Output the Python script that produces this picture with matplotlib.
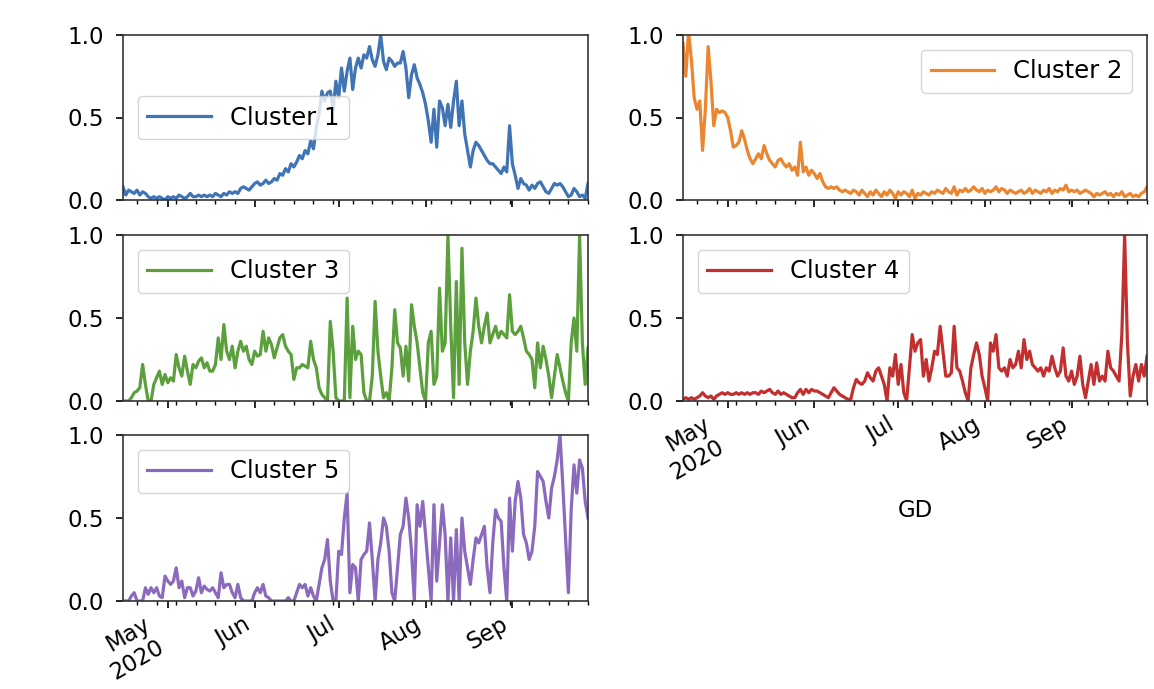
import numpy as np
import pandas as pd
import matplotlib
matplotlib.use("Agg")
import matplotlib.pyplot as plt
import matplotlib.dates as mdates
from matplotlib.ticker import FuncFormatter

start_date = "2020-04-15"
n_days = 167
series_names = ["Cluster 1", "Cluster 2", "Cluster 3", "Cluster 4", "Cluster 5"]
colors = ["#4174b4", "#ea8630", "#5c9f3d", "#c1302f", "#8b69bc"]
x_label = "GD"
y_ticks = [0.0, 0.5, 1.0]

cluster1 = [
    0.08, 0.03, 0.06, 0.05, 0.04, 0.06, 0.03, 0.05, 0.04, 0.02,
    0.01, 0.02, 0.01, 0.02, 0.01, 0.00, 0.02, 0.01, 0.02, 0.01,
    0.03, 0.02, 0.01, 0.02, 0.04, 0.02, 0.02, 0.03, 0.02, 0.03,
    0.02, 0.03, 0.02, 0.04, 0.03, 0.02, 0.04, 0.03, 0.05, 0.04,
    0.05, 0.04, 0.07, 0.08, 0.07, 0.06, 0.08, 0.10, 0.11, 0.09,
    0.10, 0.12, 0.10, 0.11, 0.13, 0.12, 0.16, 0.15, 0.19, 0.17,
    0.22, 0.20, 0.23, 0.27, 0.25, 0.30, 0.28, 0.36, 0.31, 0.44,
    0.52, 0.66, 0.60, 0.65, 0.66, 0.55, 0.72, 0.62, 0.80, 0.66,
    0.78, 0.86, 0.67, 0.80, 0.86, 0.80, 0.88, 0.86, 0.93, 0.85,
    0.81, 0.88, 1.00, 0.84, 0.79, 0.86, 0.84, 0.81, 0.83, 0.83,
    0.90, 0.80, 0.62, 0.76, 0.82, 0.74, 0.70, 0.65, 0.58, 0.48,
    0.35, 0.55, 0.32, 0.60, 0.56, 0.45, 0.58, 0.44, 0.60, 0.72,
    0.45, 0.60, 0.40, 0.30, 0.20, 0.30, 0.35, 0.33, 0.30, 0.27,
    0.24, 0.22, 0.22, 0.20, 0.18, 0.16, 0.20, 0.17, 0.45, 0.22,
    0.15, 0.07, 0.13, 0.10, 0.09, 0.06, 0.09, 0.07, 0.10, 0.11,
    0.08, 0.05, 0.04, 0.07, 0.10, 0.09, 0.10, 0.08, 0.05, 0.02,
    0.03, 0.07, 0.05, 0.02, 0.03, 0.01, 0.10,
]

cluster2 = [
    0.95, 0.75, 1.02, 0.85, 0.62, 0.55, 0.60, 0.30, 0.55, 0.93,
    0.72, 0.45, 0.55, 0.53, 0.54, 0.53, 0.50, 0.42, 0.32, 0.33,
    0.35, 0.42, 0.37, 0.30, 0.25, 0.22, 0.25, 0.28, 0.25, 0.33,
    0.28, 0.24, 0.22, 0.20, 0.24, 0.25, 0.22, 0.20, 0.22, 0.18,
    0.20, 0.15, 0.35, 0.17, 0.20, 0.15, 0.18, 0.16, 0.13, 0.16,
    0.11, 0.08, 0.07, 0.08, 0.07, 0.08, 0.06, 0.05, 0.06, 0.05,
    0.04, 0.06, 0.05, 0.03, 0.06, 0.04, 0.02, 0.05, 0.03, 0.06,
    0.04, 0.02, 0.05, 0.03, 0.06, 0.04, 0.01, 0.05, 0.03, 0.05,
    0.04, 0.02, 0.06, 0.01, 0.04, 0.03, 0.05, 0.04, 0.03, 0.05,
    0.04, 0.06, 0.05, 0.04, 0.07, 0.05, 0.04, 0.08, 0.03, 0.06,
    0.05, 0.07, 0.05, 0.06, 0.08, 0.06, 0.05, 0.07, 0.04, 0.06,
    0.05, 0.06, 0.08, 0.05, 0.07, 0.06, 0.04, 0.06, 0.05, 0.04,
    0.05, 0.06, 0.04, 0.05, 0.07, 0.04, 0.06, 0.05, 0.04, 0.06,
    0.05, 0.07, 0.04, 0.06, 0.05, 0.07, 0.06, 0.09, 0.05, 0.06,
    0.05, 0.06, 0.04, 0.05, 0.06, 0.05, 0.04, 0.02, 0.04, 0.03,
    0.04, 0.05, 0.03, 0.04, 0.02, 0.04, 0.03, 0.05, 0.02, 0.03,
    0.04, 0.02, 0.03, 0.02, 0.04, 0.05, 0.08,
]

cluster3 = [
    0.00, 0.00, 0.00, 0.02, 0.05, 0.06, 0.08, 0.22, 0.10, 0.00,
    0.00, 0.10, 0.14, 0.18, 0.10, 0.16, 0.11, 0.14, 0.12, 0.28,
    0.20, 0.15, 0.27, 0.18, 0.10, 0.22, 0.20, 0.24, 0.26, 0.20,
    0.23, 0.18, 0.18, 0.22, 0.38, 0.25, 0.46, 0.30, 0.25, 0.33,
    0.20, 0.30, 0.36, 0.30, 0.33, 0.25, 0.22, 0.30, 0.27, 0.28,
    0.42, 0.30, 0.38, 0.34, 0.26, 0.32, 0.38, 0.40, 0.33, 0.30,
    0.28, 0.13, 0.20, 0.20, 0.22, 0.21, 0.20, 0.36, 0.25, 0.20,
    0.08, 0.04, 0.02, 0.00, 0.48, 0.30, 0.02, 0.00, 0.00, 0.00,
    0.62, 0.02, 0.45, 0.25, 0.30, 0.28, 0.05, 0.00, 0.00, 0.15,
    0.60, 0.30, 0.15, 0.02, 0.05, 0.00, 0.20, 0.55, 0.35, 0.32,
    0.15, 0.33, 0.12, 0.58, 0.45, 0.35, 0.20, 0.05, 0.00, 0.35,
    0.42, 0.10, 0.15, 0.68, 0.30, 0.35, 1.00, 0.45, 0.02, 0.72,
    0.10, 0.92, 0.35, 0.10, 0.30, 0.42, 0.62, 0.45, 0.35, 0.45,
    0.53, 0.35, 0.40, 0.45, 0.38, 0.42, 0.40, 0.38, 0.64, 0.42,
    0.40, 0.42, 0.45, 0.38, 0.30, 0.28, 0.25, 0.08, 0.35, 0.20,
    0.33, 0.25, 0.15, 0.02, 0.15, 0.28, 0.20, 0.12, 0.05, 0.00,
    0.35, 0.50, 0.30, 1.00, 0.35, 0.10, 0.32,
]

cluster4 = [
    0.01, 0.02, 0.01, 0.02, 0.01, 0.02, 0.03, 0.05, 0.03, 0.02,
    0.03, 0.01, 0.03, 0.04, 0.05, 0.04, 0.05, 0.04, 0.04, 0.05,
    0.04, 0.05, 0.04, 0.05, 0.04, 0.05, 0.05, 0.04, 0.06, 0.05,
    0.06, 0.07, 0.05, 0.04, 0.06, 0.04, 0.05, 0.04, 0.03, 0.02,
    0.02, 0.05, 0.07, 0.04, 0.07, 0.05, 0.07, 0.06, 0.06, 0.05,
    0.04, 0.03, 0.02, 0.05, 0.08, 0.06, 0.04, 0.03, 0.02, 0.01,
    0.01, 0.08, 0.13, 0.11, 0.10, 0.12, 0.17, 0.14, 0.12, 0.18,
    0.20, 0.15, 0.10, 0.00, 0.20, 0.15, 0.28, 0.10, 0.22, 0.05,
    0.00, 0.20, 0.40, 0.30, 0.35, 0.37, 0.15, 0.25, 0.12, 0.20,
    0.30, 0.28, 0.45, 0.30, 0.15, 0.15, 0.17, 0.45, 0.20, 0.18,
    0.12, 0.05, 0.00, 0.20, 0.28, 0.35, 0.28, 0.15, 0.08, 0.00,
    0.35, 0.30, 0.40, 0.20, 0.18, 0.20, 0.15, 0.25, 0.20, 0.22,
    0.30, 0.20, 0.37, 0.25, 0.30, 0.22, 0.20, 0.18, 0.20, 0.15,
    0.20, 0.18, 0.27, 0.20, 0.15, 0.18, 0.32, 0.15, 0.12, 0.18,
    0.10, 0.15, 0.27, 0.10, 0.02, 0.12, 0.22, 0.10, 0.23, 0.12,
    0.15, 0.12, 0.30, 0.20, 0.18, 0.15, 0.12, 0.40, 1.00, 0.35,
    0.03, 0.15, 0.22, 0.12, 0.22, 0.15, 0.27,
]

cluster5 = [
    0.00, 0.00, 0.00, 0.03, 0.05, 0.00, 0.00, 0.00, 0.08, 0.04,
    0.08, 0.05, 0.08, 0.03, 0.02, 0.15, 0.12, 0.10, 0.12, 0.20,
    0.08, 0.12, 0.02, 0.08, 0.08, 0.03, 0.06, 0.14, 0.05, 0.09,
    0.07, 0.06, 0.08, 0.05, 0.02, 0.17, 0.08, 0.10, 0.10, 0.05,
    0.02, 0.10, 0.02, 0.00, 0.00, 0.00, 0.00, 0.05, 0.08, 0.05,
    0.10, 0.03, 0.02, 0.00, 0.00, 0.00, 0.00, 0.00, 0.00, 0.02,
    0.00, 0.00, 0.05, 0.10, 0.08, 0.10, 0.03, 0.08, 0.03, 0.00,
    0.10, 0.20, 0.25, 0.37, 0.12, 0.00, 0.00, 0.30, 0.28, 0.50,
    0.65, 0.05, 0.22, 0.20, 0.00, 0.25, 0.28, 0.30, 0.47, 0.25,
    0.00, 0.25, 0.35, 0.50, 0.45, 0.30, 0.05, 0.00, 0.20, 0.40,
    0.45, 0.62, 0.50, 0.30, 0.00, 0.58, 0.45, 0.60, 0.40, 0.20,
    0.00, 0.58, 0.12, 0.35, 0.58, 0.40, 0.00, 0.38, 0.00, 0.43,
    0.00, 0.50, 0.30, 0.20, 0.10, 0.25, 0.38, 0.35, 0.40, 0.45,
    0.20, 0.05, 0.35, 0.55, 0.50, 0.48, 0.20, 0.00, 0.62, 0.30,
    0.60, 0.72, 0.62, 0.40, 0.35, 0.25, 0.30, 0.45, 0.78, 0.75,
    0.72, 0.60, 0.50, 0.68, 0.75, 0.85, 1.00, 0.70, 0.38, 0.05,
    0.55, 0.82, 0.65, 0.85, 0.80, 0.60, 0.50,
]

series = [cluster1, cluster2, cluster3, cluster4, cluster5]
legend_locs = ["center left", "upper right", "upper left", "upper left", "upper left"]
dates = pd.date_range(start_date, periods=n_days, freq="D")

W, H = 1154, 689
fig = plt.figure(figsize=(W / 100, H / 100), dpi=100)

col_x = [(123, 588), (683, 1147)]
row_y = [(35, 200), (235, 401), (435, 601)]
grid = [(0, 0), (0, 1), (1, 0), (1, 1), (2, 0)]

FS = 16.5
LFS = 17.5


def month_fmt(x, pos):
    d = mdates.num2date(x)
    if d.month == 5:
        return "May\n2020"
    return d.strftime("%b")


for i, (vals, name) in enumerate(zip(series, series_names)):
    r, c = grid[i]
    x0, x1 = col_x[c]
    yt, yb = row_y[r]
    ax = fig.add_axes([x0 / W, 1 - yb / H, (x1 - x0) / W, (yb - yt) / H])
    ax.plot(dates, vals, color=colors[i], lw=2.3, label=name)
    ax.set_xlim(dates[0], dates[-1])
    ax.set_ylim(0, 1)
    ax.set_yticks(y_ticks)
    ax.set_yticklabels([f"{v:.1f}" for v in y_ticks])
    ax.xaxis.set_major_locator(mdates.MonthLocator())
    ax.xaxis.set_minor_locator(mdates.WeekdayLocator(byweekday=mdates.MO))
    ax.tick_params(axis="both", which="major", labelsize=FS, length=5, width=1.2)
    ax.tick_params(axis="y", which="major", pad=9)
    ax.tick_params(axis="x", which="minor", length=3, width=1.0)
    for s in ax.spines.values():
        s.set_linewidth(1.2)
        s.set_color("#333333")
    show_labels = (r, c) in [(2, 0), (1, 1)]
    if show_labels:
        ax.xaxis.set_major_formatter(FuncFormatter(month_fmt))
        for lab in ax.get_xticklabels():
            lab.set_rotation(30)
            lab.set_ha("right")
    else:
        ax.tick_params(axis="x", which="both", labelbottom=False)
    if (r, c) == (1, 1):
        ax.set_xlabel(x_label, fontsize=FS, labelpad=10)
    ax.legend(loc=legend_locs[i], fontsize=LFS, handlelength=2.6,
              borderaxespad=0.6)

fig.savefig("out.png", dpi=100)
